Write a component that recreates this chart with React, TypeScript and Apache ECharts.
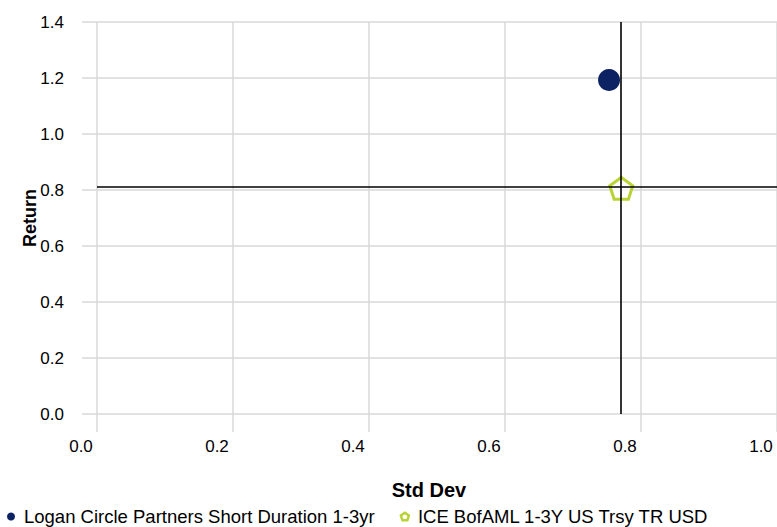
import React, { useEffect, useRef } from "react";
import * as echarts from "echarts";

const seriesNames = [
  "Logan Circle Partners Short Duration 1-3yr",
  "ICE BofAML 1-3Y US Trsy TR USD",
];
const stdDev = [0.753, 0.771];
const returns = [1.193, 0.806];
const xTicks = [0, 0.2, 0.4, 0.6, 0.8, 1.0];
const yTicks = [0, 0.2, 0.4, 0.6, 0.8, 1.0, 1.2, 1.4];

const NAVY = "#0d2262";
const GREEN = "#bad334";
const GRID = "#d9d9d9";
const FONT = "'Liberation Sans', Arial, sans-serif";
const PENTAGON =
  "path://M0,-1 L0.951,-0.309 L0.588,0.809 L-0.588,0.809 L-0.951,-0.309 Z";

export default function App() {
  const ref = useRef<HTMLDivElement>(null);
  useEffect(() => {
    if (!ref.current) return;
    const chart = echarts.init(ref.current, null, { renderer: "svg" });
    chart.setOption({
      animation: false,
      textStyle: { fontFamily: FONT },
      grid: {
        left: 97,
        right: 0,
        top: 22,
        bottom: 113,
        containLabel: false,
        outerBoundsMode: "none",
      },
      legend: {
        left: 7,
        bottom: 1,
        padding: 0,
        itemWidth: 8,
        itemHeight: 8,
        itemGap: 25,
        textStyle: {
          fontSize: 18.5,
          color: "#000",
          fontFamily: FONT,
          padding: [0, 0, 0, 4],
        },
        data: [
          { name: seriesNames[0], icon: "circle", itemStyle: { color: NAVY } },
          {
            name: seriesNames[1],
            icon: PENTAGON,
            itemStyle: { color: "#fff", borderColor: GREEN, borderWidth: 2.5 },
          },
        ],
      },
      xAxis: {
        type: "value",
        min: xTicks[0],
        max: xTicks[xTicks.length - 1],
        interval: 0.2,
        name: "Std Dev",
        nameLocation: "middle",
        nameGap: 66,
        nameMoveOverlap: false,
        nameTextStyle: {
          fontSize: 20,
          fontWeight: "bold",
          color: "#000",
          fontFamily: FONT,
          padding: [0, 16, 0, 0],
        },
        axisLine: { show: false },
        axisTick: { show: true, length: 18, lineStyle: { color: GRID, width: 1.5 } },
        splitLine: { show: true, lineStyle: { color: GRID, width: 1.5 } },
        axisLabel: {
          fontSize: 17,
          color: "#000",
          margin: 24,
          padding: [0, 32, 0, 0],
          formatter: (v: number) => v.toFixed(1),
        },
      },
      yAxis: {
        type: "value",
        min: yTicks[0],
        max: yTicks[yTicks.length - 1],
        interval: 0.2,
        name: "Return",
        nameLocation: "middle",
        nameGap: 58,
        nameMoveOverlap: false,
        nameTextStyle: {
          fontSize: 18,
          fontWeight: "bold",
          color: "#000",
          fontFamily: FONT,
        },
        axisLine: { show: false },
        axisTick: { show: true, length: 15, lineStyle: { color: GRID, width: 1.5 } },
        splitLine: { show: true, lineStyle: { color: GRID, width: 1.5 } },
        axisLabel: {
          fontSize: 17,
          color: "#000",
          margin: 33,
          formatter: (v: number) => v.toFixed(1),
        },
      },
      series: [
        {
          name: "refLines",
          type: "scatter",
          data: [],
          z: 1,
          silent: true,
          markLine: {
            silent: true,
            symbol: "none",
            label: { show: false },
            lineStyle: { color: "#000", width: 1.6, type: "solid" },
            data: [{ xAxis: stdDev[1] }, { yAxis: returns[1] }],
          },
        },
        {
          name: seriesNames[0],
          type: "scatter",
          z: 3,
          symbol: "circle",
          symbolSize: 22,
          itemStyle: { color: NAVY, opacity: 1 },
          data: [[stdDev[0], returns[0]]],
        },
        {
          name: seriesNames[1],
          type: "scatter",
          z: 3,
          symbol: PENTAGON,
          symbolSize: [23, 22],
          itemStyle: {
            color: "rgba(255,255,255,0.75)",
            borderColor: GREEN,
            borderWidth: 3,
            opacity: 1,
          },
          data: [[stdDev[1], returns[1]]],
        },
      ],
    });
    return () => chart.dispose();
  }, []);
  return (
    <div
      ref={ref}
      style={{ position: "absolute", left: 0, top: 0, width: 777, height: 527 }}
    />
  );
}
